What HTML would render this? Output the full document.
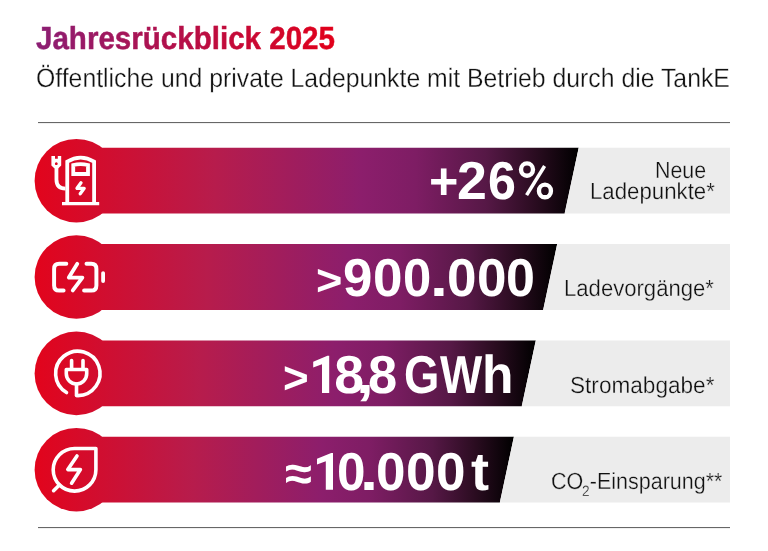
<!DOCTYPE html>
<html><head><meta charset="utf-8">
<style>
html,body{margin:0;padding:0;background:#fff;}
body{width:768px;height:551px;position:relative;overflow:hidden;font-family:"Liberation Sans",sans-serif;}
.t,.num,.lab{position:absolute;white-space:nowrap;line-height:1;transform-origin:0 0;text-rendering:geometricPrecision;}
.title{font-weight:bold;background:linear-gradient(90deg,#8b1e74 0%,#e2001a 100%);-webkit-background-clip:text;background-clip:text;color:transparent;-webkit-text-stroke:0.5px transparent;}
.sub{color:#111;-webkit-text-stroke:0.3px #fff;}
.rule{position:absolute;left:38px;width:692px;height:1px;background:#676767;box-shadow:0 0.6px 0.6px rgba(0,0,0,0.12);}
.num{color:#fff;font-weight:bold;font-size:53.5px;}
.lab{color:#111;-webkit-text-stroke:0.3px #ececec;}
.s2{font-size:0.64em;position:relative;top:0.5em;margin-left:-0.1em;margin-right:0.02em}
svg{position:absolute;left:0;top:0;}
</style></head><body>
<div class="t title" style="left:35.67px;top:23.00px;font-size:31.9px;transform:scaleX(0.9265)">Jahresrückblick 2025</div>
<div class="t sub" style="left:36.26px;top:65.00px;font-size:26.5px;transform:scaleX(0.9358)">Öffentliche und private Ladepunkte mit Betrieb durch die TankE</div>
<div class="rule" style="top:122px"></div>
<div class="rule" style="top:527px"></div>
<svg width="768" height="551" viewBox="0 0 768 551">
<defs><linearGradient id="g0" gradientUnits="userSpaceOnUse" x1="34.6" y1="0" x2="578.7" y2="0"><stop offset="0" stop-color="#e2041c"/><stop offset="0.33" stop-color="#b71c4c"/><stop offset="0.6" stop-color="#8c1e6c"/><stop offset="0.7" stop-color="#7e1d64"/><stop offset="0.83" stop-color="#561846"/><stop offset="0.92" stop-color="#2a0c20"/><stop offset="1" stop-color="#000"/></linearGradient><linearGradient id="g1" gradientUnits="userSpaceOnUse" x1="34.6" y1="0" x2="557.2" y2="0"><stop offset="0" stop-color="#e2041c"/><stop offset="0.33" stop-color="#b71c4c"/><stop offset="0.6" stop-color="#8c1e6c"/><stop offset="0.7" stop-color="#7e1d64"/><stop offset="0.83" stop-color="#561846"/><stop offset="0.92" stop-color="#2a0c20"/><stop offset="1" stop-color="#000"/></linearGradient><linearGradient id="g2" gradientUnits="userSpaceOnUse" x1="34.6" y1="0" x2="535.8" y2="0"><stop offset="0" stop-color="#e2041c"/><stop offset="0.33" stop-color="#b71c4c"/><stop offset="0.6" stop-color="#8c1e6c"/><stop offset="0.7" stop-color="#7e1d64"/><stop offset="0.83" stop-color="#561846"/><stop offset="0.92" stop-color="#2a0c20"/><stop offset="1" stop-color="#000"/></linearGradient><linearGradient id="g3" gradientUnits="userSpaceOnUse" x1="34.6" y1="0" x2="513.9" y2="0"><stop offset="0" stop-color="#e2041c"/><stop offset="0.33" stop-color="#b71c4c"/><stop offset="0.6" stop-color="#8c1e6c"/><stop offset="0.7" stop-color="#7e1d64"/><stop offset="0.83" stop-color="#561846"/><stop offset="0.92" stop-color="#2a0c20"/><stop offset="1" stop-color="#000"/></linearGradient></defs><path d="M76.4,147.8 H578.7 L564.65,213.60 H76.4 Z" fill="url(#g0)"/><circle cx="76.4" cy="180.70" r="41.8" fill="url(#g0)"/><path d="M578.7,147.8 H730 V213.60 H564.65 Z" fill="#ececec"/><path d="M76.4,244.1 H557.2 L543.15,309.90 H76.4 Z" fill="url(#g1)"/><circle cx="76.4" cy="277.00" r="41.8" fill="url(#g1)"/><path d="M557.2,244.1 H730 V309.90 H543.15 Z" fill="#ececec"/><path d="M76.4,340.5 H535.8 L521.75,406.30 H76.4 Z" fill="url(#g2)"/><circle cx="76.4" cy="373.40" r="41.8" fill="url(#g2)"/><path d="M535.8,340.5 H730 V406.30 H521.75 Z" fill="#ececec"/><path d="M76.4,436.8 H513.9 L499.85,502.60 H76.4 Z" fill="url(#g3)"/><circle cx="76.4" cy="469.70" r="41.8" fill="url(#g3)"/><path d="M513.9,436.8 H730 V502.60 H499.85 Z" fill="#ececec"/>

<g fill="none" stroke="#fff" stroke-width="3.6" stroke-linecap="round" stroke-linejoin="round">
 <!-- icon1: charging station -->
 <path d="M62,203.6 H99.2" stroke-width="3.3" stroke-linecap="butt"/>
 <path d="M67.25,203 V161.6 Q80.6,153.6 94.1,161.6 V203" stroke-width="3.8" stroke-linecap="butt" stroke-linejoin="miter"/>
 <path d="M73.25,174 V165 Q80.6,163.2 88,165 V174 Z" stroke-width="3.8" stroke-linejoin="miter"/>
 <path d="M81,182.8 L77,188.3 H84.2 L80.2,193.8" stroke-width="3.3"/>
 <path d="M51.4,156.1 H55 V158.7 H57.8 V156.1 H61.2 V165.6 L58.4,168.2 H54.3 L51.4,165.6 Z M56.3,162.3 a1.4,1.4 0 1 0 0.01,0 Z" fill="#fff" stroke="none" fill-rule="evenodd"/>
 <path d="M56.45,167 V179.5 Q56.45,188.6 65.5,188.6" stroke-width="3.8" stroke-linecap="butt"/>
 <!-- icon2: battery -->
 <path d="M66.3,263.8 H59.2 Q54.1,263.8 54.1,268.9 V285.4 Q54.1,290.5 59.2,290.5 H63.6" stroke-width="3.95"/>
 <path d="M86.5,263.8 H91.3 Q96.4,263.8 96.4,268.9 V285.4 Q96.4,290.5 91.3,290.5 H84.1" stroke-width="3.95"/>
 <path d="M103.1,273.1 V281.1" stroke-width="3.8"/>
 <path d="M77.3,263.8 L68.8,277.6 H82.4 L72.8,290.4" stroke-width="3.8"/>
 <!-- icon3: plug -->
 <path d="M66.5,392.5 A22.2,22.2 0 1 1 77.6,395.6 H77.6"/>
 <path d="M71.6,360.6 V368 M83,360.6 V368"/>
 <path d="M66.3,369.5 H86.7 V373.8 A10.2,10.2 0 0 1 66.3,373.8 Z"/>
 <path d="M76.5,384 V395.6"/>
 <!-- icon4: leaf -->
 <path d="M74.5,448.5 H95.9 V469.8 A21.3,21.3 0 0 1 74.5,491.1 A21.3,21.3 0 0 1 53.2,469.8 A21.3,21.3 0 0 1 74.5,448.5 Z"/>
 <path d="M59.4,484.9 L53.6,490.7"/>
 <path d="M77,456 L67.8,469.6 H80.4 L71.6,483.2"/>
</g>

<polygon fill="#fff" points="329.20,355.80 329.20,393.00 322.00,393.00 322.00,364.21 313.20,367.41 313.20,361.68 327.40,355.80"/>
<g fill="none" stroke="#fff" stroke-width="4.4"><ellipse cx="527.0" cy="169.6" rx="6.0" ry="6.2"/><ellipse cx="544.95" cy="190.95" rx="6.0" ry="6.35"/></g>
<line x1="544.6" y1="166.0" x2="526.6" y2="195.1" stroke="#fff" stroke-width="3.5"/>
<polygon fill="#fff" points="333.00,453.00 333.00,489.80 325.80,489.80 325.80,461.32 317.00,464.48 317.00,458.81 331.20,453.00"/>
</svg>
<div class="num" style="left:428.92px;top:155.77px;transform:scale(0.9407,0.9704)">+</div><div class="num" style="left:457.39px;top:154.62px;transform:scale(1.0038,1.0000)">2</div><div class="num" style="left:488.22px;top:154.62px;transform:scale(0.9385,1.0000)">6</div>
<div class="num" style="left:316.41px;top:258.63px;transform:scale(0.8444,0.8069)">&gt;</div><div class="num" style="left:343.22px;top:252.22px;transform:scale(0.9885,1.0000)">9</div><div class="num" style="left:372.82px;top:252.22px;transform:scale(0.9923,1.0000)">0</div><div class="num" style="left:402.90px;top:252.22px;transform:scale(0.9500,1.0000)">0</div><div class="num" style="left:429.90px;top:252.22px;transform:scale(1.2000,1.0000)">.</div><div class="num" style="left:446.92px;top:252.22px;transform:scale(0.9923,1.0000)">0</div><div class="num" style="left:476.62px;top:252.22px;transform:scale(0.9923,1.0000)">0</div><div class="num" style="left:506.15px;top:252.22px;transform:scale(0.9731,1.0000)">0</div>
<div class="num" style="left:283.36px;top:355.50px;transform:scale(0.8222,0.8310)">&gt;</div><div class="num" style="left:334.30px;top:348.67px;transform:scale(1.0000,1.0000)">8</div><div class="num" style="left:355.90px;top:348.67px;transform:scale(1.2000,1.0000)">,</div><div class="num" style="left:368.14px;top:348.67px;transform:scale(0.9808,1.0000)">8</div><div class="num" style="left:404.20px;top:348.67px;transform:scale(0.8500,1.0000)">G</div><div class="num" style="left:439.70px;top:348.67px;transform:scale(0.8360,1.0000)">W</div><div class="num" style="left:482.04px;top:348.67px;transform:scale(0.9640,1.0000)">h</div>
<div class="num" style="left:284.99px;top:449.86px;transform:scale(0.9148,0.9000)">≈</div><div class="num" style="left:336.78px;top:445.73px;transform:scale(0.9577,1.0000)">0</div><div class="num" style="left:359.74px;top:445.73px;transform:scale(1.2143,1.0000)">.</div><div class="num" style="left:376.12px;top:445.73px;transform:scale(0.9923,1.0000)">0</div><div class="num" style="left:405.91px;top:445.73px;transform:scale(0.9962,1.0000)">0</div><div class="num" style="left:435.82px;top:445.73px;transform:scale(0.9923,1.0000)">0</div><div class="num" style="left:470.69px;top:445.73px;transform:scale(1.0125,1.0000)">t</div>
<div class="lab" style="left:654.66px;top:159.00px;font-size:23.3px;transform:scaleX(0.9189)">Neue</div>
<div class="lab" style="left:589.79px;top:180.00px;font-size:23.3px;transform:scaleX(0.9539)">Ladepunkte*</div>
<div class="lab" style="left:563.90px;top:277.00px;font-size:23.3px;transform:scaleX(0.9487)">Ladevorgänge*</div>
<div class="lab" style="left:570.23px;top:374.00px;font-size:23.3px;transform:scaleX(0.9701)">Stromabgabe*</div>
<div class="lab" style="left:550.78px;top:470.00px;font-size:23.3px;transform:scaleX(0.9228)">CO<span class="s2">2</span>-Einsparung**</div>
</body></html>
